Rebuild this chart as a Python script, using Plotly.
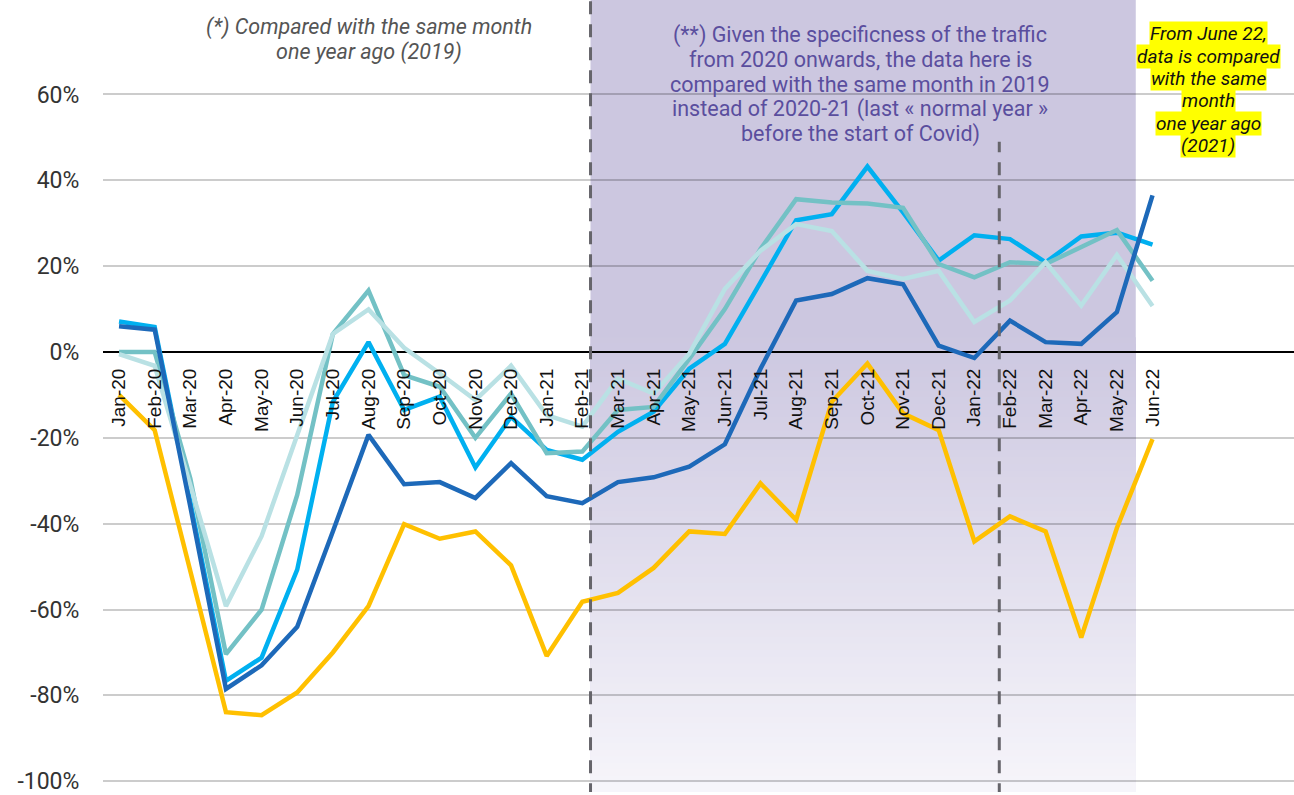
import plotly.graph_objects as go

# ---- data -------------------------------------------------------------
months = [
    "Jan-20", "Feb-20", "Mar-20", "Apr-20", "May-20", "Jun-20", "Jul-20", "Aug-20",
    "Sep-20", "Oct-20", "Nov-20", "Dec-20", "Jan-21", "Feb-21", "Mar-21", "Apr-21",
    "May-21", "Jun-21", "Jul-21", "Aug-21", "Sep-21", "Oct-21", "Nov-21", "Dec-21",
    "Jan-22", "Feb-22", "Mar-22", "Apr-22", "May-22", "Jun-22",
]

# monthly variation, in %
series_yellow = [-10, -18.2, -51, -83.9, -84.6, -79.3, -70, -59.2, -40.1, -43.5,
                 -41.8, -49.7, -70.8, -58.2, -56.1, -50.3, -41.8, -42.4, -30.6, -39.1,
                 -11.6, -2.7, -14.3, -18.2, -44.1, -38.3, -41.8, -66.5, -41, -20.3]
series_darkblue = [6.0, 5.2, -36, -78.5, -73, -64, -41.8, -19.3, -30.8, -30.3,
                   -34.0, -25.9, -33.6, -35.2, -30.3, -29.2, -26.7, -21.5, -3.9, 12.0,
                   13.5, 17.2, 15.8, 1.5, -1.4, 7.3, 2.3, 1.9, 9.3, 36.5]
series_cyan = [7.1, 5.8, -35, -76.6, -71.2, -50.7, -11.6, 2.3, -13.5, -10.4,
               -26.9, -15.1, -22.8, -25.1, -18.6, -13.9, -3.9, 1.9, 16.2, 30.7,
               32.1, 43.2, 32.5, 21.3, 27.2, 26.3, 20.9, 26.9, 27.8, 25.0]
series_teal = [0, 0, -29.5, -70.4, -60, -33.3, 4.2, 14.3, -5.4, -8.1,
               -20.0, -9.7, -23.6, -23.2, -13.5, -12.8, -1.6, 10.0, 24.0, 35.6,
               34.8, 34.6, 33.6, 20.5, 17.4, 20.9, 20.5, 24.4, 28.4, 16.6]
series_lightteal = [-0.5, -3.2, -31, -59.2, -42.9, -19.3, 4.2, 9.9, 1.0, -5.0,
                    -11.2, -3.2, -14.7, -17.4, -6.2, -9.7, -0.4, 14.7, 23.6, 29.8,
                    28.2, 18.9, 17.0, 18.9, 7.0, 12.0, 20.9, 10.8, 22.6, 10.7]

y_ticks = [-100, -80, -60, -40, -20, 0, 20, 40, 60]
y_tick_labels = [f"{v}%" for v in y_ticks]

note_2019 = ["(*) Compared with the same month", "one year ago (2019)"]
note_covid = [
    "(**) Given the specificness of the traffic",
    "from 2020 onwards, the data here is",
    "compared with the same month in 2019",
    "instead of 2020-21 (last « normal year »",
    "before the start of Covid)",
]
note_2021 = ["From June 22,", "data is compared", "with the same", "month",
             "one year ago", "(2021)"]

# ---- layout constants ---------------------------------------------------
Y_MIN, Y_MAX = -102.5, 82.0
X_MIN, X_MAX = -0.45, 32.97
SHADE_X0, SHADE_X1 = 13.23, 28.53     # 2019-reference period
SPLIT_X = 24.7                         # switch to year-on-year comparison
PX_ZERO, PX_PER_PCT = 353.3, 4.31      # vertical pixel scale of the plot


def px_to_y(py):
    return (PX_ZERO - py) / PX_PER_PCT


fig = go.Figure()

styles = [
    ("Segment 1", series_yellow, "#FFC000"),
    ("Segment 2", series_cyan, "#00B0F0"),
    ("Segment 3", series_teal, "#73C1C5"),
    ("Segment 4", series_lightteal, "#B9E1E4"),
    ("Segment 5", series_darkblue, "#1D69B9"),
]
for name, vals, col in styles:
    fig.add_trace(go.Scatter(
        x=months, y=vals, name=name, mode="lines",
        line=dict(color=col, width=4.5), showlegend=False,
    ))

shapes = []

# shaded band: flat lavender on top, fading towards the bottom.
# Each step reaches down to the bottom so no seams appear between steps.
top_rgb = (204, 199, 224)
bot_rgb = (247, 246, 251)
fade_start = 5.0
shapes.append(dict(type="rect", xref="x", yref="y", x0=SHADE_X0, x1=SHADE_X1,
                   y0=Y_MIN - 2, y1=Y_MAX + 5, line=dict(width=0),
                   fillcolor="rgb(%d,%d,%d)" % top_rgb, layer="below"))
n_steps = 70
step = (fade_start - (Y_MIN - 1)) / n_steps
for i in range(1, n_steps + 1):
    t = i / n_steps
    c = tuple(round(a + (b - a) * t) for a, b in zip(top_rgb, bot_rgb))
    y1 = fade_start - i * step
    shapes.append(dict(type="rect", xref="x", yref="y", x0=SHADE_X0, x1=SHADE_X1,
                       y0=Y_MIN - 2, y1=y1, line=dict(width=0),
                       fillcolor="rgb(%d,%d,%d)" % c, layer="below"))

# dashed separators
shapes.append(dict(type="line", xref="x", yref="y", x0=SHADE_X0, x1=SHADE_X0,
                   y0=Y_MIN - 1, y1=Y_MAX + 1,
                   line=dict(color="#66656b", width=3, dash="13px,10px"), layer="above"))
shapes.append(dict(type="line", xref="x", yref="y", x0=SPLIT_X, x1=SPLIT_X,
                   y0=Y_MIN - 1, y1=49,
                   line=dict(color="#66656b", width=3, dash="13px,10px"), layer="above"))

annotations = []
for line, py in zip(note_2019, [27, 52]):
    annotations.append(dict(
        xref="x", yref="y", x=7.0, y=px_to_y(py), xanchor="center", yanchor="middle",
        text="<i>" + line + "</i>", showarrow=False,
        font=dict(family="Roboto", size=21.5, color="#555555")))

for line, py in zip(note_covid, [35, 59.5, 84.5, 109.5, 134.5]):
    annotations.append(dict(
        xref="x", yref="y", x=20.8, y=px_to_y(py), xanchor="center", yanchor="middle",
        text=line, showarrow=False,
        font=dict(family="Roboto", size=21.5, color="#5A4E9E")))

for line, py in zip(note_2021, [34, 57, 79, 101, 124, 146]):
    annotations.append(dict(
        xref="x", yref="y", x=30.56, y=px_to_y(py), xanchor="center", yanchor="middle",
        text="<i>" + line + "</i>", showarrow=False, bgcolor="#FFFF00",
        borderpad=0, font=dict(family="Roboto", size=19, color="#111111")))

fig.update_layout(
    width=1294, height=795,
    margin=dict(l=103, r=0, t=0, b=0),
    paper_bgcolor="white", plot_bgcolor="rgba(0,0,0,0)",
    shapes=shapes, annotations=annotations,
    xaxis=dict(
        type="category", categoryorder="array", categoryarray=months,
        range=[X_MIN, X_MAX], showgrid=False, zeroline=False, showline=False,
        anchor="free", position=(0 - Y_MIN) / (Y_MAX - Y_MIN),
        tickangle=-90, ticks="outside", ticklen=8, tickcolor="rgba(0,0,0,0)",
        tickfont=dict(family="Liberation Sans", size=19, color="#111111"),
    ),
    yaxis=dict(
        range=[Y_MIN, Y_MAX], tickvals=y_ticks, ticktext=y_tick_labels,
        showgrid=True, gridcolor="rgba(0,0,0,0.2)", gridwidth=2,
        zeroline=True, zerolinecolor="#000000", zerolinewidth=2,
        ticks="outside", ticklen=18, tickcolor="rgba(0,0,0,0)",
        ticklabeloverflow="allow",
        tickfont=dict(family="Roboto", size=23, color="#333333"),
        showline=False,
    ),
)

fig.write_html("out.html")
